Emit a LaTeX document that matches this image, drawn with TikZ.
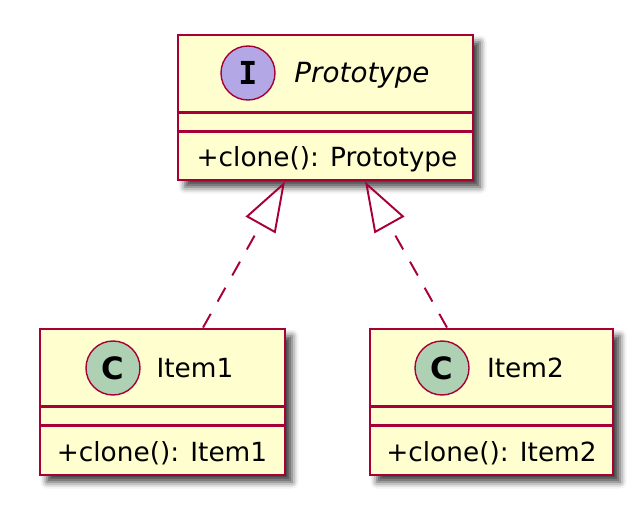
\documentclass[tikz,border=0pt]{standalone}
\usepackage{fontspec}
\setmainfont{DejaVu Sans}
\newfontfamily\spotfont{DejaVu Sans Mono}
\usetikzlibrary{arrows.meta,calc,shadows.blur}
\definecolor{cfill}{HTML}{FEFECE}
\definecolor{cline}{HTML}{A80036}
\definecolor{ciface}{HTML}{B4A7E5}
\definecolor{cclass}{HTML}{ADD1B2}
\tikzset{
  every picture/.style={font=\fontsize{15}{18}\selectfont},
  classbox/.style={draw=cline, fill=cfill, line width=1.6pt, inner sep=0pt,
    blur shadow={shadow xshift=0.14cm, shadow yshift=-0.14cm,
      shadow blur radius=0.13cm, shadow opacity=75}},
  spot/.style={circle, draw=cline, line width=0.8pt, minimum size=1.08cm,
    inner sep=0pt, font=\fontsize{18}{20}\spotfont\bfseries},
  cspot/.style={spot, fill=cclass, font=\fontsize{17.5}{20}\selectfont\bfseries},
  txt/.style={inner sep=0pt, text height=11pt, text depth=0pt},
  sep/.style={cline, line width=1.6pt},
  realize/.style={cline, line width=1.1pt, dash pattern=on 9pt off 8pt,
    -{Triangle[open, length=1cm, width=0.68cm]}},
}

\begin{document}
\begin{tikzpicture}
  \useasboundingbox (0,0) rectangle (12.88,-10.22);
  % interface
  \node[classbox, minimum width=5.9cm, minimum height=2.9cm] (proto) at (6.51,-2.15) {};
  \draw[sep] ($(proto.north west)+(0,-1.57)$) -- ($(proto.north east)+(0,-1.57)$);
  \draw[sep] ($(proto.north west)+(0,-1.95)$) -- ($(proto.north east)+(0,-1.95)$);
  \node[spot, fill=ciface] (protospot) at (4.96,-1.46) {I};
  \node[txt, font=\fontsize{15.8}{18}\selectfont\itshape] (protoname) at (7.24,-1.46) {Prototype};
  \node[txt] (protoop) at (6.54,-3.13) {+clone(): Prototype};
  % concrete classes
  \node[classbox, minimum width=4.9cm, minimum height=2.92cm] (item1) at (3.25,-8.04) {};
  \draw[sep] ($(item1.north west)+(0,-1.57)$) -- ($(item1.north east)+(0,-1.57)$);
  \draw[sep] ($(item1.north west)+(0,-1.95)$) -- ($(item1.north east)+(0,-1.95)$);
  \node[cspot] (item1spot) at (2.26,-7.36) {C};
  \node[txt] (item1name) at (3.9,-7.36) {Item1};
  \node[txt] (item1op) at (3.24,-9.04) {+clone(): Item1};

  \node[classbox, minimum width=4.86cm, minimum height=2.92cm] (item2) at (9.83,-8.04) {};
  \draw[sep] ($(item2.north west)+(0,-1.57)$) -- ($(item2.north east)+(0,-1.57)$);
  \draw[sep] ($(item2.north west)+(0,-1.95)$) -- ($(item2.north east)+(0,-1.95)$);
  \node[cspot] (item2spot) at (8.84,-7.36) {C};
  \node[txt] (item2name) at (10.51,-7.36) {Item2};
  \node[txt] (item2op) at (9.83,-9.04) {+clone(): Item2};
  % realizations
  \draw[realize] ($(item1.north)+(0.81,0)$) -- ($(proto.south)+(-0.81,0)$);
  \draw[realize] ($(item2.north)+(-0.89,0)$) -- ($(proto.south)+(0.79,0)$);
\end{tikzpicture}
\end{document}
